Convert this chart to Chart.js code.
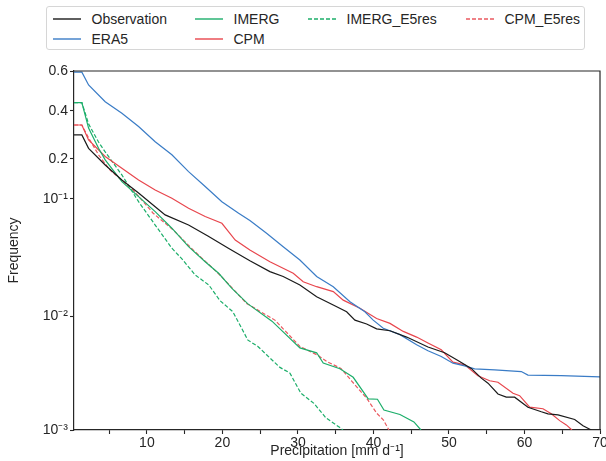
<!DOCTYPE html>
<html>
<head>
<meta charset="utf-8">
<script src="https://cdn.jsdelivr.net/npm/chart.js@4.4.1/dist/chart.umd.min.js"></script>
<style>
  html, body { margin: 0; padding: 0; background: #fff; }
  #wrap { position: relative; width: 606px; height: 461px; font-family: "Liberation Sans", Arial, sans-serif; color: #262626; }
  #chart { position: absolute; left: 0; top: 0; }
  #legend { position: absolute; left: 45.5px; top: 5.5px; width: 539px; height: 44px; box-sizing: border-box;
            border: 1px solid #d6d6d6; border-radius: 3px; background: #fff; font-size: 14px; }
  .leg-item { position: absolute; height: 18px; display: flex; align-items: center; white-space: nowrap; }
  .leg-item svg { margin-right: 11px; }
</style>
</head>
<body>
<div id="wrap">
  <canvas id="chart" width="606" height="461"></canvas>
  <div id="legend"></div>
</div>
<script>
// ---- data (frequency vs precipitation) ----
const obsX  = [0.35, 1.39, 2.28, 4.48, 6.69, 8.90, 11.10, 12.42, 15.52, 18.08, 20.79, 23.64, 26.29, 28.05, 30.26, 32.48, 34.68, 36.45, 37.55, 39.10, 40.42, 42.19, 44.40, 47.22, 49.43, 51.19, 52.95, 54.28, 55.17, 56.49, 57.59, 58.70, 60.46, 62.23, 63.11, 64.44, 66.65, 67.75, 68.85];
const obsY  = [0.290, 0.290, 0.237, 0.181, 0.140, 0.111, 0.0864, 0.0741, 0.0611, 0.0495, 0.0390, 0.0305, 0.0246, 0.0223, 0.0188, 0.0149, 0.0126, 0.0110, 0.0093, 0.0086, 0.0078, 0.0075, 0.0066, 0.0054, 0.0048, 0.0041, 0.0035, 0.00287, 0.00259, 0.00208, 0.00195, 0.00195, 0.00159, 0.00145, 0.00139, 0.00136, 0.00124, 0.00109, 0.00100];

const era5X = [0.35, 1.39, 2.28, 4.48, 6.69, 8.90, 11.10, 13.31, 15.52, 17.72, 19.93, 22.15, 23.64, 25.85, 28.05, 30.26, 32.48, 34.68, 36.89, 38.87, 39.97, 41.30, 43.51, 45.72, 47.22, 48.98, 50.53, 52.08, 53.40, 56.05, 59.58, 60.46, 64.87, 70];
const era5Y = [0.594, 0.594, 0.530, 0.445, 0.388, 0.326, 0.262, 0.214, 0.162, 0.125, 0.0948, 0.0765, 0.0667, 0.0522, 0.0402, 0.0309, 0.0223, 0.0182, 0.01346, 0.0110, 0.0093, 0.00788, 0.00693, 0.00565, 0.00500, 0.00446, 0.00389, 0.00368, 0.00347, 0.00340, 0.00328, 0.00305, 0.00302, 0.00294];

const imergX = [0.35, 1.39, 2.28, 3.60, 4.48, 6.69, 8.90, 11.10, 13.31, 15.52, 17.72, 19.50, 21.26, 23.38, 26.56, 30.26, 32.48, 33.35, 35.56, 37.32, 39.31, 40.53, 41.39, 43.51, 45.36, 46.29];
const imergY = [0.441, 0.441, 0.319, 0.237, 0.197, 0.136, 0.104, 0.0788, 0.0575, 0.0402, 0.0299, 0.0238, 0.0176, 0.0129, 0.0091, 0.0053, 0.0048, 0.0039, 0.00347, 0.00292, 0.00188, 0.00187, 0.00150, 0.00137, 0.00118, 0.00100];

const cpmX = [0.35, 1.39, 2.28, 4.48, 6.69, 8.90, 11.10, 13.31, 15.52, 17.72, 19.93, 21.70, 23.64, 26.29, 29.38, 30.70, 32.48, 34.68, 36.00, 38.21, 40.42, 42.19, 43.95, 45.72, 47.22, 48.98, 50.53, 52.08, 53.84, 55.39, 56.49, 58.48, 59.36, 60.69, 62.45, 63.55, 64.66, 65.54, 66.29];
const cpmY = [0.333, 0.333, 0.269, 0.208, 0.1715, 0.140, 0.1174, 0.1009, 0.0839, 0.0718, 0.0632, 0.0457, 0.0377, 0.0299, 0.0238, 0.0201, 0.0182, 0.0165, 0.0139, 0.0118, 0.0096, 0.0087, 0.0074, 0.0066, 0.00585, 0.00510, 0.00397, 0.00376, 0.00301, 0.00272, 0.00264, 0.00211, 0.00201, 0.00159, 0.00154, 0.00139, 0.00121, 0.00111, 0.00100];

const imergResX = [0.35, 1.39, 2.28, 3.60, 4.48, 6.69, 8.90, 11.10, 13.31, 14.64, 16.40, 18.21, 19.67, 21.39, 23.38, 24.70, 25.85, 27.62, 28.94, 30.40, 32.12, 33.71, 35.56, 35.96];
const imergResY = [0.441, 0.441, 0.338, 0.261, 0.224, 0.153, 0.0948, 0.0611, 0.0390, 0.0316, 0.0230, 0.0188, 0.0138, 0.0110, 0.0062, 0.00546, 0.00461, 0.00357, 0.00318, 0.00211, 0.00172, 0.00128, 0.00105, 0.00100];

const cpmResX = [0.35, 1.39, 2.28, 3.60, 5.10, 8.19, 10.83, 13.48, 16.13, 19.67, 23.21, 26.95, 28.05, 30.26, 32.65, 33.84, 35.70, 37.09, 39.10, 40.42, 41.30, 42.05];
const cpmResY = [0.333, 0.333, 0.2775, 0.214, 0.1667, 0.117, 0.0765, 0.0556, 0.0377, 0.0230, 0.0130, 0.0093, 0.0078, 0.00546, 0.00456, 0.00401, 0.00350, 0.00272, 0.00191, 0.00141, 0.00123, 0.00100];

const xTickValues = [5, 10, 15, 20, 25, 30, 35, 40, 45, 50, 55, 60, 65, 70];
const yTickValues = [0.001, 0.01, 0.1, 0.2, 0.4, 0.6];
const yTickLabels = ['10\u207B\u00B3', '10\u207B\u00B2', '10\u207B\u00B9', '0.2', '0.4', '0.6'];

// series in legend order (matplotlib fills columns first)
const series = [
  { label: 'Observation', x: obsX,      y: obsY,      color: '#1a1a1a', dash: [] },
  { label: 'ERA5',        x: era5X,     y: era5Y,     color: '#3a7cc6', dash: [] },
  { label: 'IMERG',       x: imergX,    y: imergY,    color: '#1cae6a', dash: [] },
  { label: 'CPM',         x: cpmX,      y: cpmY,      color: '#e8464d', dash: [] },
  { label: 'IMERG_E5res', x: imergResX, y: imergResY, color: '#1cae6a', dash: [4, 2] },
  { label: 'CPM_E5res',   x: cpmResX,   y: cpmResY,   color: '#ea5a60', dash: [4, 2] },
];
const legendCols = [[0, 1], [2, 3], [4], [5]];

// ---- logit y scale, like matplotlib's yscale('logit') ----
const logit = p => Math.log10(p / (1 - p));
class LogitScale extends Chart.Scale {
  determineDataLimits() { this.min = this.options.min; this.max = this.options.max; }
  buildTicks() { return yTickValues.map(value => ({ value })); }
  getLabelForValue(v) { return String(v); }
  configure() {
    super.configure();
    this._lo = logit(this.min);
    this._span = logit(this.max) - this._lo;
  }
  getPixelForValue(v) { return this.getPixelForDecimal((logit(v) - this._lo) / this._span); }
  getValueForPixel(px) {
    const t = Math.pow(10, this._lo + this.getDecimalForPixel(px) * this._span);
    return t / (1 + t);
  }
}
LogitScale.id = 'logit';
LogitScale.defaults = {};
Chart.register(LogitScale);

const INK = '#262626';
Chart.defaults.font.family = '"Liberation Sans", Arial, sans-serif';
Chart.defaults.font.size = 14;
Chart.defaults.color = INK;

const frame = {
  id: 'frame',
  afterDraw(chart) {
    const { ctx, chartArea: a } = chart;
    ctx.save();
    ctx.strokeStyle = INK;
    ctx.lineWidth = 1.2;
    ctx.beginPath();
    ctx.moveTo(a.left, a.top); ctx.lineTo(a.right, a.top); ctx.lineTo(a.right, a.bottom);
    ctx.stroke();
    ctx.restore();
  }
};

new Chart(document.getElementById('chart'), {
  type: 'line',
  data: {
    datasets: series.map(s => ({
      label: s.label,
      data: s.x.map((x, i) => ({ x, y: s.y[i] })),
      borderColor: s.color, borderWidth: 1.2, borderDash: s.dash,
      pointRadius: 0, tension: 0, fill: false,
    }))
  },
  options: {
    responsive: false, animation: false, events: [],
    layout: { padding: { top: 71, right: 6, bottom: 0, left: 0 } },
    plugins: { legend: { display: false }, tooltip: { enabled: false } },
    scales: {
      x: {
        type: 'linear', min: 0.35, max: 70,
        afterBuildTicks: ax => { ax.ticks = xTickValues.map(value => ({ value })); },
        afterFit: ax => { ax.height = 31; ax.paddingLeft = 0; ax.paddingRight = 0; },
        ticks: { autoSkip: false, maxRotation: 0, padding: 1, callback: v => (v % 10 === 0 ? String(v) : '') },
        grid: { drawOnChartArea: false, drawTicks: true, tickLength: 4, color: INK, tickWidth: 1.1 },
        border: { display: true, color: INK, width: 1.2 },
        title: { display: true, text: 'Precipitation [mm d\u207B\u00B9]', padding: { top: 0, bottom: 1 } },
      },
      y: {
        type: 'logit', min: 0.001, max: 0.6,
        afterFit: ax => { ax.width = 74; ax.paddingTop = 0; ax.paddingBottom = 0; },
        ticks: { autoSkip: false, padding: 2, callback: (v, i) => yTickLabels[i] },
        grid: { drawOnChartArea: false, drawTicks: true, tickLength: 4, color: INK, tickWidth: 1.1 },
        border: { display: true, color: INK, width: 1.2 },
        title: { display: true, text: 'Frequency', padding: { top: 6, bottom: 0 } },
      }
    }
  },
  plugins: [frame],
});

// ---- legend box (4 columns, filled column by column) ----
const legendColX = [6, 148, 261, 419];
const legendRowY = [12, 32];
const legendEl = document.getElementById('legend');
legendCols.forEach((col, c) => col.forEach((idx, r) => {
  const s = series[idx];
  const item = document.createElement('div');
  item.className = 'leg-item';
  item.style.left = legendColX[c] + 'px';
  item.style.top = (legendRowY[r] - 9) + 'px';
  item.innerHTML = `<svg width="28" height="4"><line x1="0" y1="2" x2="28" y2="2" stroke="${s.color}" stroke-width="1.4" ${s.dash.length ? `stroke-dasharray="${s.dash.join(' ')}"` : ''}/></svg><span>${s.label}</span>`;
  legendEl.appendChild(item);
}));
</script>
</body>
</html>
